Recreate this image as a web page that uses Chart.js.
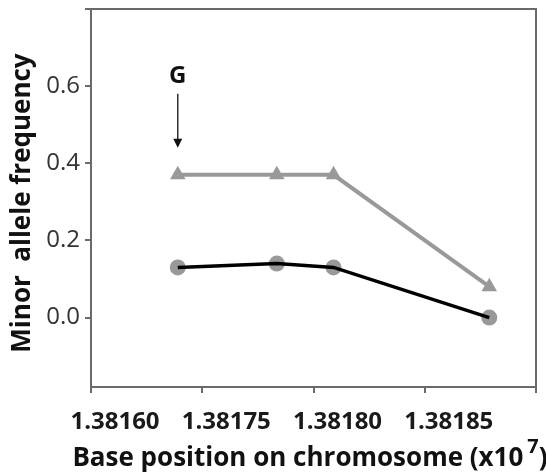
<!DOCTYPE html>
<html>
<head>
<meta charset="utf-8">
<script src="https://cdn.jsdelivr.net/npm/chart.js@4/dist/chart.umd.min.js"></script>
<style>
  html, body { margin: 0; padding: 0; background: #fff; }
  #wrap { width: 546px; height: 473px; position: relative; }
</style>
</head>
<body>
<div id="wrap"><canvas id="c" width="546" height="473"></canvas></div>
<script>
// ---- data ----
const xTickValues = [0, 1, 2, 3, 4];
const xTickLabels = ["1.38160", "1.38175", "1.38180", "1.38185", ""];
const yTickValues = [0.0, 0.2, 0.4, 0.6, 0.8];
const yTickLabels = ["0.0", "0.2", "0.4", "0.6", ""];
const positions = [0.78, 1.67, 2.18, 3.58];
const triangleSeries = [0.37, 0.37, 0.37, 0.08];
const circleSeries = [0.13, 0.14, 0.13, 0.00];
const annotationLabel = "G";
const annotationX = 0.78;
const annotationTextY = 0.625;
const annotationArrowFrom = 0.58;
const annotationArrowTo = 0.44;
const xTitle = "Base position on chromosome (x10";
const xTitleSup = "7";
const xTitleEnd = ")";
const yTitle = "Minor  allele frequency";

const toPts = (ys) => positions.map((x, i) => ({ x: x, y: ys[i] }));

const boxPlugin = {
  id: 'boxAndText',
  afterDraw(chart) {
    const ctx = chart.ctx;
    const a = chart.chartArea;
    const xs = chart.scales.x, ys = chart.scales.y;
    ctx.save();
    // frame
    ctx.strokeStyle = '#6a6a6a';
    ctx.lineWidth = 2;
    ctx.strokeRect(a.left, a.top, a.right - a.left, a.bottom - a.top);
    // annotation G with arrow
    const ax = xs.getPixelForValue(annotationX);
    ctx.fillStyle = '#111';
    ctx.font = 'bold 24px "Open Sans"';
    ctx.textAlign = 'center';
    ctx.textBaseline = 'middle';
    ctx.fillText(annotationLabel, ax, ys.getPixelForValue(annotationTextY));
    const y1 = ys.getPixelForValue(annotationArrowFrom);
    const y2 = ys.getPixelForValue(annotationArrowTo);
    ctx.strokeStyle = '#111';
    ctx.lineWidth = 1.3;
    ctx.beginPath();
    ctx.moveTo(ax, y1);
    ctx.lineTo(ax, y2 - 4);
    ctx.stroke();
    ctx.beginPath();
    ctx.moveTo(ax - 4.5, y2 - 9);
    ctx.lineTo(ax + 4.5, y2 - 9);
    ctx.lineTo(ax, y2);
    ctx.closePath();
    ctx.fill();
    // x title with superscript
    ctx.fillStyle = '#111';
    ctx.font = 'bold 26px "Open Sans"';
    ctx.textBaseline = 'alphabetic';
    ctx.textAlign = 'left';
    const w1 = ctx.measureText(xTitle).width;
    ctx.font = 'bold 20px "Open Sans"';
    const w2 = ctx.measureText(xTitleSup).width;
    ctx.font = 'bold 26px "Open Sans"';
    const w3 = ctx.measureText(xTitleEnd).width;
    const total = w1 + 4 + w2 + w3;
    const cx = 310;
    let sx = cx - total / 2;
    const base = 466;
    ctx.fillText(xTitle, sx, base);
    ctx.font = 'bold 20px "Open Sans"';
    ctx.fillText(xTitleSup, sx + w1 + 4, base - 13);
    ctx.font = 'bold 26px "Open Sans"';
    ctx.fillText(xTitleEnd, sx + w1 + 4 + w2, base);
    // y title
    ctx.translate(23, 203);
    ctx.rotate(-Math.PI / 2);
    ctx.textAlign = 'center';
    ctx.textBaseline = 'middle';
    ctx.font = 'bold 26px "Open Sans"';
    ctx.fillText(yTitle, 0, 0);
    ctx.restore();
  }
};

new Chart(document.getElementById('c'), {
  type: 'scatter',
  data: {
    datasets: [
      {
        label: 'triangles',
        data: toPts(triangleSeries),
        showLine: true,
        borderColor: '#999999',
        backgroundColor: '#999999',
        borderWidth: 4,
        pointStyle: 'triangle',
        pointRadius: 9,
        pointBorderWidth: 0,
        order: 2
      },
      {
        label: 'circles',
        data: toPts(circleSeries),
        showLine: false,
        borderColor: '#999999',
        backgroundColor: '#999999',
        pointStyle: 'circle',
        pointRadius: 8,
        pointBorderWidth: 0,
        order: 1
      },
      {
        label: 'circle line',
        data: toPts(circleSeries),
        showLine: true,
        borderColor: '#000000',
        borderWidth: 3.5,
        pointRadius: 0,
        order: 0
      }
    ]
  },
  options: {
    responsive: false,
    animation: false,
    devicePixelRatio: 1,
    layout: { padding: { top: 9, right: 10, left: 0, bottom: 0 } },
    plugins: { legend: { display: false }, tooltip: { enabled: false } },
    scales: {
      x: {
        type: 'linear',
        min: 0, max: 4,
        border: { display: false },
        grid: { display: true, drawOnChartArea: false, drawTicks: true, tickLength: 6, color: '#6a6a6a', lineWidth: 2 },
        afterBuildTicks: (s) => { s.ticks = xTickValues.map(v => ({ value: v })); },
        afterFit: (s) => { s.height = 86; s.paddingLeft = 0; s.paddingRight = 0; },
        ticks: {
          autoSkip: false,
          maxRotation: 0,
          labelOffset: 24,
          padding: 15,
          color: '#1a1a1a',
          font: { family: '"Open Sans"', size: 24, weight: 'bold' },
          callback: (v) => { const i = xTickValues.indexOf(v); return i >= 0 ? xTickLabels[i] : ''; }
        }
      },
      y: {
        type: 'linear',
        min: -0.18, max: 0.8,
        border: { display: false },
        grid: { display: true, drawOnChartArea: false, drawTicks: true, tickLength: 6, color: '#6a6a6a', lineWidth: 2 },
        afterBuildTicks: (s) => { s.ticks = yTickValues.map(v => ({ value: v })); },
        afterFit: (s) => { s.width = 91; s.paddingTop = 0; s.paddingBottom = 0; },
        ticks: {
          autoSkip: false,
          padding: 5,
          color: '#333333',
          font: { family: '"Open Sans"', size: 24 },
          callback: (v) => { const i = yTickValues.findIndex(t => Math.abs(t - v) < 1e-9); return i >= 0 ? yTickLabels[i] : ''; }
        }
      }
    }
  },
  plugins: [boxPlugin]
});
</script>
</body>
</html>
